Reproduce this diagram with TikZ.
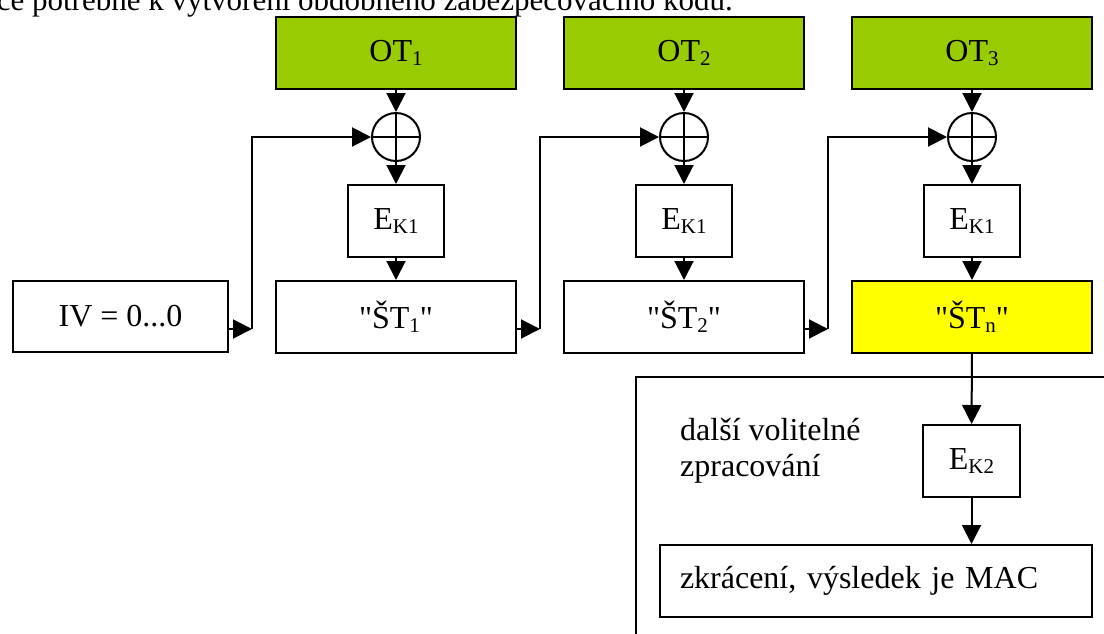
\documentclass[tikz,border=0pt]{standalone}
\usepackage{fontspec}
\setmainfont{Liberation Serif}
\usetikzlibrary{arrows.meta}
\definecolor{ptgreen}{HTML}{99CC00}
\definecolor{ctyellow}{HTML}{FFFF00}
% lowered, smaller index text as in a word processor
\newcommand\lowidx[1]{\raisebox{-4pt}{\fontsize{21}{21}\selectfont #1}}
% straight double quote, set as a glyph so no ligature mapping applies
\newcommand\sq{\XeTeXglyph\XeTeXcharglyph34\relax}
\tikzset{
  block/.style={draw=black, line width=2pt, inner sep=0pt, align=center,
    font=\fontsize{32}{36}\selectfont},
  ptbox/.style={block, fill=ptgreen, minimum width=240pt, minimum height=72pt},
  stbox/.style={block, fill=white, minimum width=240pt, minimum height=72pt},
  ebox/.style={block, fill=white, minimum width=96pt, minimum height=72pt},
  xorop/.style={circle, draw=black, line width=2pt, minimum size=48pt, inner sep=0pt},
  flow/.style={line width=2pt, -{Triangle[length=19pt,width=19pt]}},
  wire/.style={line width=2pt},
  plain/.style={font=\fontsize{32}{36}\selectfont, inner sep=0pt}
}
\begin{document}
\begin{tikzpicture}[x=1pt, y=-1pt]
\useasboundingbox (0,0) rectangle (1104,633);
\clip (0,0) rectangle (1104,633);

% line of running text above the scheme
\node[plain, font=\fontsize{31}{36}\selectfont, anchor=base east] (intro) at (733,10)
  {ce potřebné k vytvoření obdobného zabezpečovacího kódu.};

% optional post-processing frame
\draw[line width=2pt] (1120,377) -- (636,377) -- (636,650);

% plaintext blocks
\node[ptbox] (ot1) at (396,53) {OT\lowidx{1}};
\node[ptbox] (ot2) at (684,53) {OT\lowidx{2}};
\node[ptbox] (ot3) at (972,53) {OT\lowidx{3}};

% XOR operators
\node[xorop] (x1) at (396,137) {};
\node[xorop] (x2) at (684,137) {};
\node[xorop] (x3) at (972,137) {};
\foreach \x in {x1,x2,x3}{
  \draw[wire] (\x.north) -- (\x.south);
  \draw[wire] (\x.west) -- (\x.east);
}

% block cipher with key K1
\node[ebox] (e1) at (396,221) {E\lowidx{K1}};
\node[ebox] (e2) at (684,221) {E\lowidx{K1}};
\node[ebox] (e3) at (972,221) {E\lowidx{K1}};

% intermediate ciphertexts
\node[block, fill=white, minimum width=215pt, minimum height=71pt] (iv) at (120.5,316.5) {IV = 0...0};
\node[stbox] (st1) at (396,317) {\sq ŠT\lowidx{1}\sq};
\node[stbox] (st2) at (684,317) {\sq ŠT\lowidx{2}\sq};
\node[stbox, fill=ctyellow] (stn) at (972,317) {\sq ŠT\lowidx{n}\sq};

% post-processing
\node[ebox, minimum width=97pt] (ek2) at (971.5,461) {E\lowidx{K2}};
\node[block, fill=white, minimum width=432pt, minimum height=72pt, text width=392pt, align=left] (mac) at (876,581) {zkrácení, výsledek je MAC};
\node[plain, anchor=north west, align=left] (opt) at (680,418) {další volitelné\\zpracování};

% vertical flow in each stage
\foreach \i in {1,2,3}{
  \draw[flow] (ot\i) -- (x\i.north);
  \draw[flow] (x\i.south) -- (e\i);
}
\draw[flow] (e1) -- (st1);
\draw[flow] (e2) -- (st2);
\draw[flow] (e3) -- (stn);

% chaining feedback
\coordinate (c1) at (252,329);
\coordinate (c2) at (540,329);
\coordinate (c3) at (828,329);
\draw[flow] (c1 -| iv.east) -- (c1);
\draw[flow] (c1) |- (x1.west);
\draw[flow] (c2 -| st1.east) -- (c2);
\draw[flow] (c2) |- (x2.west);
\draw[flow] (c3 -| st2.east) -- (c3);
\draw[flow] (c3) |- (x3.west);

% final processing
\draw[flow] (stn) -- (ek2);
\draw[flow] (ek2) -- (mac.north -| ek2);
\end{tikzpicture}
\end{document}
